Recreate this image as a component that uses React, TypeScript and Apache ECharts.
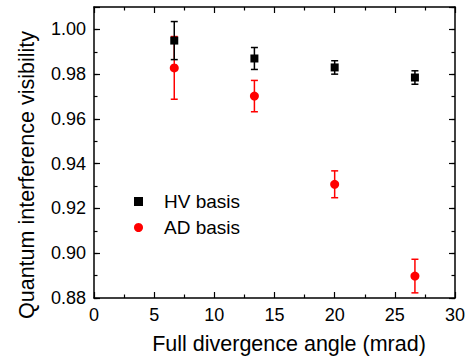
import React, { useEffect, useRef } from "react";
import * as echarts from "echarts";

const angles = [6.67, 13.33, 20, 26.67];
const hvValues = [0.995, 0.987, 0.983, 0.9785];
const hvErrors = [0.0085, 0.0049, 0.003, 0.003];
const adValues = [0.9828, 0.9702, 0.9308, 0.8898];
const adErrors = [0.014, 0.007, 0.006, 0.0075];
const seriesNames = ["HV basis", "AD basis"];
const xTitle = "Full divergence angle (mrad)";
const yTitle = "Quantum interference visibility";

const FONT = "'Liberation Sans', Arial, Helvetica, sans-serif";

function errorBarSeries(name: string, values: number[], errors: number[], color: string) {
  return {
    type: "custom",
    name,
    xAxisIndex: 0,
    yAxisIndex: 0,
    silent: true,
    data: angles.map((x, i) => [x, values[i], errors[i]]),
    renderItem: (params: any, api: any) => {
      const x = api.value(0);
      const y = api.value(1);
      const e = api.value(2);
      const top = api.coord([x, y + e]);
      const bot = api.coord([x, y - e]);
      const w = 3.5;
      const style = { stroke: color, lineWidth: 1.5 };
      return {
        type: "group",
        children: [
          { type: "line", shape: { x1: top[0], y1: top[1], x2: bot[0], y2: bot[1] }, style },
          { type: "line", shape: { x1: top[0] - w, y1: top[1], x2: top[0] + w, y2: top[1] }, style },
          { type: "line", shape: { x1: bot[0] - w, y1: bot[1], x2: bot[0] + w, y2: bot[1] }, style },
        ],
      };
    },
  };
}

export default function App() {
  const ref = useRef<HTMLDivElement>(null);
  useEffect(() => {
    document.body.style.margin = "0";
    if (!ref.current) return;
    const chart = echarts.init(ref.current, undefined, { renderer: "svg" });
    const axisLine = { show: true, lineStyle: { color: "#000", width: 1.5 } };
    const xBase = {
      type: "value",
      min: 0,
      max: 30,
      interval: 5,
      axisLine,
      axisTick: { show: true, inside: true, length: 6, lineStyle: { color: "#000", width: 1.2 } },
      minorTick: { show: true, splitNumber: 2, length: 3.5, lineStyle: { color: "#000", width: 1.2 } },
      splitLine: { show: false },
      minorSplitLine: { show: false },
    };
    const yMinor = {
      type: "value",
      min: 0.88,
      max: 1.01,
      interval: 0.01,
      axisLine,
      axisTick: { show: true, inside: true, length: 3.5, lineStyle: { color: "#000", width: 1.2 } },
      splitLine: { show: false },
    };
    const yMajor = {
      type: "value",
      min: 0.88,
      max: 1.01,
      interval: 0.02,
      axisLine: { show: false },
      axisLabel: { show: false },
      axisTick: { show: true, inside: true, length: 6, lineStyle: { color: "#000", width: 1.2 } },
      splitLine: { show: false },
    };
    chart.setOption({
      animation: false,
      grid: { left: 94, right: 18, top: 7, bottom: 60, containLabel: false },
      legend: {
        orient: "vertical",
        left: 129,
        top: 187,
        itemWidth: 9,
        itemHeight: 9,
        itemGap: 7,
        textStyle: { fontFamily: FONT, fontSize: 19, color: "#000", padding: [0, 0, 0, 16] },
        data: [
          { name: seriesNames[0], icon: "rect", itemStyle: { color: "#000", opacity: 1 } },
          { name: seriesNames[1], icon: "circle", itemStyle: { color: "#ff0000", opacity: 1 } },
        ],
      },
      xAxis: [
        {
          ...xBase,
          position: "bottom",
          name: xTitle,
          nameLocation: "middle",
          nameGap: 35,
          nameTextStyle: { fontFamily: FONT, fontSize: 21.5, color: "#000", padding: [0, 0, 0, 29] },
          axisLabel: { show: true, margin: 8, fontFamily: FONT, fontSize: 18, color: "#000" },
        },
        { ...xBase, position: "top", axisLabel: { show: false } },
      ],
      yAxis: [
        {
          ...yMinor,
          position: "left",
          name: yTitle,
          nameLocation: "middle",
          nameGap: 56,
          nameTextStyle: { fontFamily: FONT, fontSize: 21.5, color: "#000", padding: [0, 45, 0, 0] },
          axisLabel: {
            show: true,
            margin: 8,
            fontFamily: FONT,
            fontSize: 18,
            color: "#000",
            showMaxLabel: false,
            formatter: (v: number) => {
              const k = Math.round(v * 100);
              return k % 2 === 0 && k <= 100 ? v.toFixed(2) : "";
            },
          },
        },
        { ...yMajor, position: "left" },
        { ...yMinor, position: "right", axisLabel: { show: false } },
        { ...yMajor, position: "right" },
      ],
      series: [
        errorBarSeries("AD err", adValues, adErrors, "#ff0000"),
        {
          type: "scatter",
          name: seriesNames[1],
          symbol: "circle",
          symbolSize: 9,
          itemStyle: { color: "#ff0000", opacity: 1 },
          data: angles.map((x, i) => [x, adValues[i]]),
          z: 3,
        },
        errorBarSeries("HV err", hvValues, hvErrors, "#000000"),
        {
          type: "scatter",
          name: seriesNames[0],
          symbol: "rect",
          symbolSize: 8,
          itemStyle: { color: "#000000", opacity: 1 },
          data: angles.map((x, i) => [x, hvValues[i]]),
          z: 4,
        },
      ],
    });
    return () => chart.dispose();
  }, []);
  return <div ref={ref} style={{ width: 473, height: 360 }} />;
}
